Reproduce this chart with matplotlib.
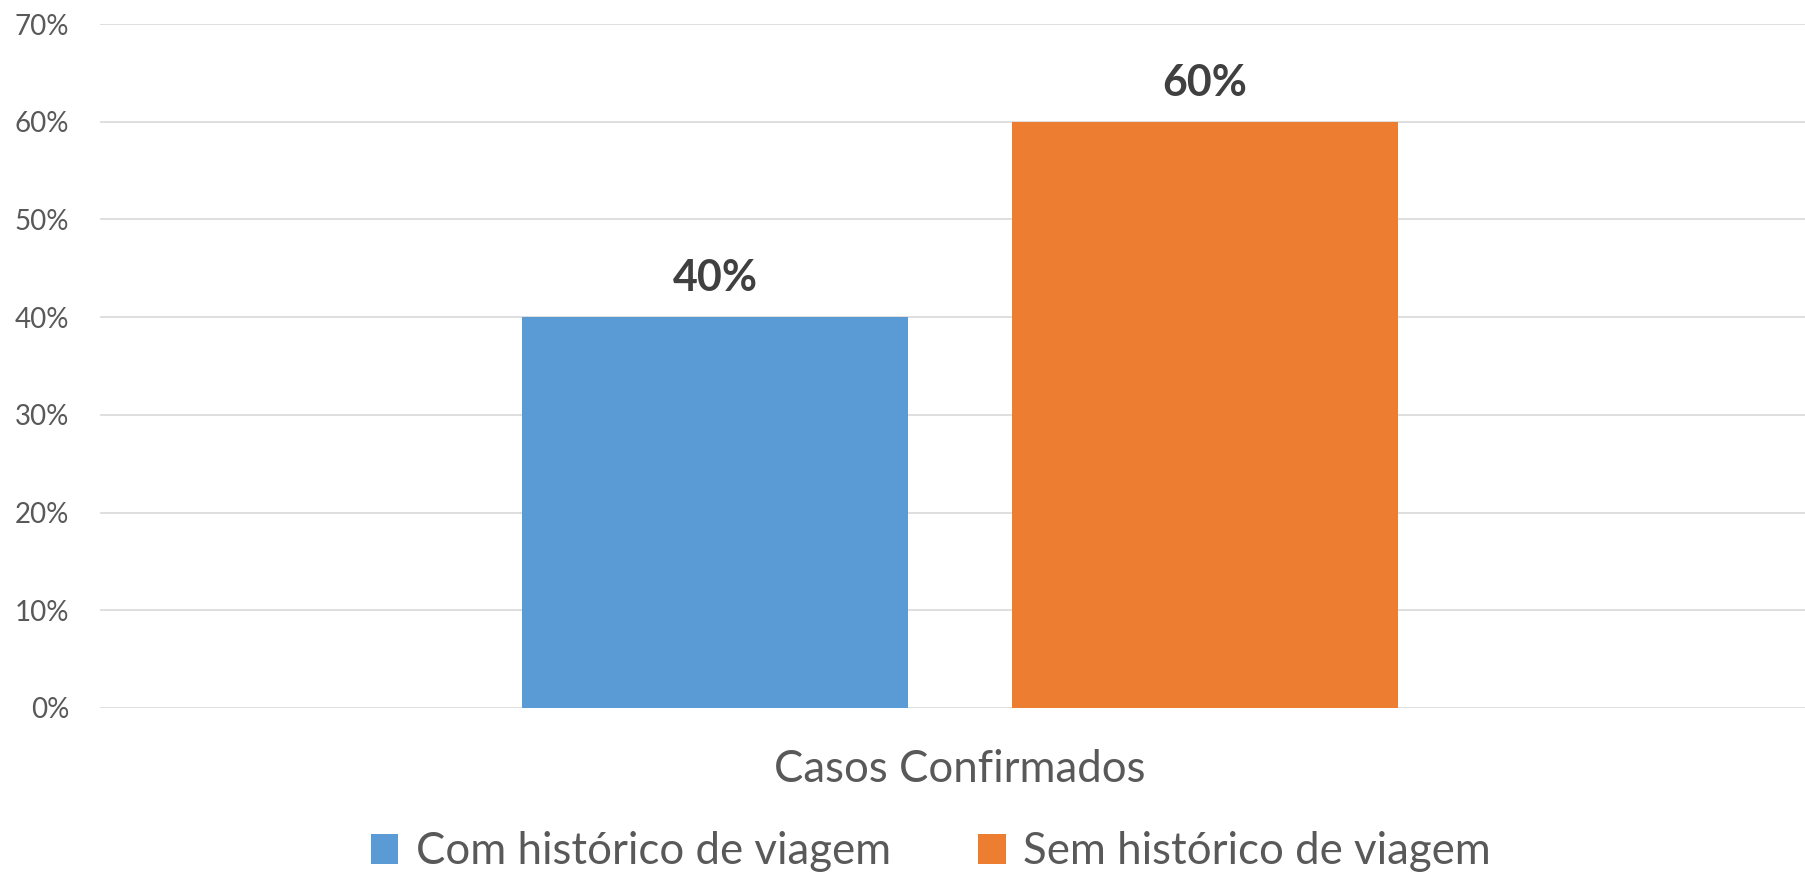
import matplotlib.pyplot as plt
from matplotlib.ticker import PercentFormatter
from matplotlib.patches import Patch

plt.rcParams['font.family'] = ['Lato', 'DejaVu Sans']

# Data
category = 'Casos Confirmados'
series_names = ['Com histórico de viagem', 'Sem histórico de viagem']
values = [0.40, 0.60]
colors = ['#5B9BD5', '#ED7D31']
yticks = [0, 0.1, 0.2, 0.3, 0.4, 0.5, 0.6, 0.7]

fig = plt.figure(figsize=(18.06, 8.75), dpi=100)
ax = fig.add_axes([100 / 1806, 1 - 708 / 875, 1706 / 1806, 684 / 875])

# grouped bars around a single category at x=0
bar_w = 0.2244
offsets = [-0.1424, 0.1424]
for off, v, c in zip(offsets, values, colors):
    ax.bar(off, v, width=bar_w, color=c, zorder=3)
    ax.text(off, v + 0.04, f'{v:.0%}', ha='center', va='center',
            fontsize=31, fontweight='bold', color='#404040')

ax.set_xlim(-0.5, 0.4919)
ax.set_ylim(0, 0.7)
ax.set_yticks(yticks)
ax.yaxis.set_major_formatter(PercentFormatter(1.0, decimals=0))
ax.set_xticks([])
ax.tick_params(axis='y', length=0, pad=22, labelsize=20, labelcolor='#595959')
ax.grid(axis='y', color='#D9D9D9', linewidth=1.2, zorder=0)
for s in ax.spines.values():
    s.set_visible(False)

fig.text(960 / 1806, 1 - 770 / 875, category, ha='center', va='center',
         fontsize=31.5, color='#595959')

handles = [Patch(facecolor=c) for c in colors]
fig.legend(handles, series_names, loc='center', bbox_to_anchor=(931 / 1806, 1 - 852 / 875),
           ncol=2, frameon=False, fontsize=31.5, labelcolor='#595959',
           handlelength=0.62, handleheight=0.68, handletextpad=0.4, columnspacing=2.0)

plt.savefig('out.png', dpi=100)
